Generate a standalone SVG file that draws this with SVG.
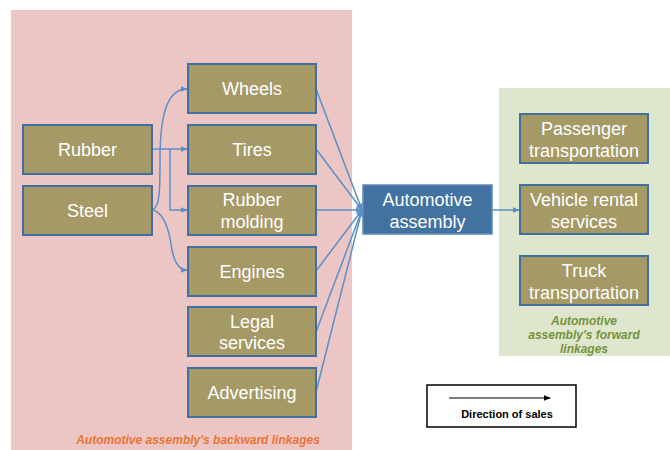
<svg xmlns="http://www.w3.org/2000/svg" width="670" height="450" viewBox="0 0 670 450">
<defs>
<style>
.box{fill:#A59A65;stroke:#41709E;stroke-width:2}
.t{font-family:"Liberation Sans",Arial,sans-serif;font-size:18px;fill:#FFFFFF;text-anchor:middle}
.c{fill:none;stroke:#5B8FC9;stroke-width:1.5}
</style>
<marker id="a" viewBox="0 0 10 10" refX="9" refY="5" markerWidth="7" markerHeight="7" orient="auto" markerUnits="userSpaceOnUse"><path d="M0,1 L10,5 L0,9 Z" fill="#5B8FC9"/></marker>
<marker id="k" viewBox="0 0 10 10" refX="9" refY="5" markerWidth="7" markerHeight="7" orient="auto" markerUnits="userSpaceOnUse"><path d="M0,1 L10,5 L0,9 Z" fill="#000"/></marker>
</defs>
<rect x="11" y="10" width="341" height="440" fill="#ECC6C4"/>
<rect x="499" y="88" width="171" height="268" fill="#DEE7CD"/>
<g id="connectors">
<path class="c" d="M152,149 L187,149" marker-end="url(#a)"/>
<path class="c" d="M170,149 L170,210 L187,210" marker-end="url(#a)"/>
<path class="c" d="M152,210 C160,208 160,190 160,160 C160,112 168,89 187,89" marker-end="url(#a)"/>
<path class="c" d="M152,210 C165,212 170,235 172,250 C175,265 180,270 187,270" marker-end="url(#a)"/>
<path class="c" d="M316,89 L362,210" marker-end="url(#a)"/>
<path class="c" d="M316,149 L362,210" marker-end="url(#a)"/>
<path class="c" d="M316,210 L362,210" marker-end="url(#a)"/>
<path class="c" d="M316,271 L362,210" marker-end="url(#a)"/>
<path class="c" d="M316,332 L362,210" marker-end="url(#a)"/>
<path class="c" d="M316,392 L362,210" marker-end="url(#a)"/>
<path class="c" d="M492,210 L519,210" marker-end="url(#a)"/>
</g>
<g id="rubber"><rect class="box" x="23" y="125" width="129" height="49"/><text class="t" x="87.5" y="156">Rubber</text></g>
<g id="steel"><rect class="box" x="23" y="186" width="129" height="49"/><text class="t" x="87.5" y="217">Steel</text></g>
<g id="wheels"><rect class="box" x="188" y="64" width="128" height="49"/><text class="t" x="252" y="95">Wheels</text></g>
<g id="tires"><rect class="box" x="188" y="125" width="128" height="49"/><text class="t" x="252" y="156">Tires</text></g>
<g id="rubber-molding"><rect class="box" x="188" y="186" width="128" height="49"/><text class="t" x="252" y="206">Rubber</text><text class="t" x="252" y="228">molding</text></g>
<g id="engines"><rect class="box" x="188" y="247" width="128" height="49"/><text class="t" x="252" y="278">Engines</text></g>
<g id="legal"><rect class="box" x="188" y="307" width="128" height="49"/><text class="t" x="252" y="328">Legal</text><text class="t" x="252" y="349">services</text></g>
<g id="advertising"><rect class="box" x="188" y="368" width="128" height="49"/><text class="t" x="252" y="399">Advertising</text></g>
<g id="assembly"><rect x="363" y="185" width="129" height="49" fill="#42729F" stroke="#5E89B5" stroke-width="1.5"/><text class="t" x="427.5" y="206">Automotive</text><text class="t" x="427.5" y="228">assembly</text></g>
<g id="passenger"><rect class="box" x="520" y="114" width="128" height="49"/><text class="t" x="584" y="135">Passenger</text><text class="t" x="584" y="157">transportation</text></g>
<g id="rental"><rect class="box" x="520" y="185" width="128" height="49"/><text class="t" x="584" y="206">Vehicle rental</text><text class="t" x="584" y="228">services</text></g>
<g id="truck"><rect class="box" x="520" y="256" width="128" height="49"/><text class="t" x="584" y="277">Truck</text><text class="t" x="584" y="299">transportation</text></g>
<g id="labels" font-family="Liberation Sans,Arial,sans-serif" font-size="12" font-weight="bold" font-style="italic" text-anchor="middle">
<text x="198" y="444" fill="#EB7434">Automotive assembly's backward linkages</text>
<text x="584" y="325" fill="#76933C">Automotive</text>
<text x="584" y="339" fill="#76933C">assembly's forward</text>
<text x="584" y="353" fill="#76933C">linkages</text>
</g>
<g id="legend">
<rect x="427" y="385" width="149" height="42" fill="#FFFFFF" stroke="#000" stroke-width="1.5"/>
<path d="M449,398 L550,398" stroke="#000" stroke-width="1.2" marker-end="url(#k)"/>
<text x="507" y="418" font-family="Liberation Sans,Arial,sans-serif" font-size="11" font-weight="bold" text-anchor="middle" fill="#000">Direction of sales</text>
</g>
</svg>
